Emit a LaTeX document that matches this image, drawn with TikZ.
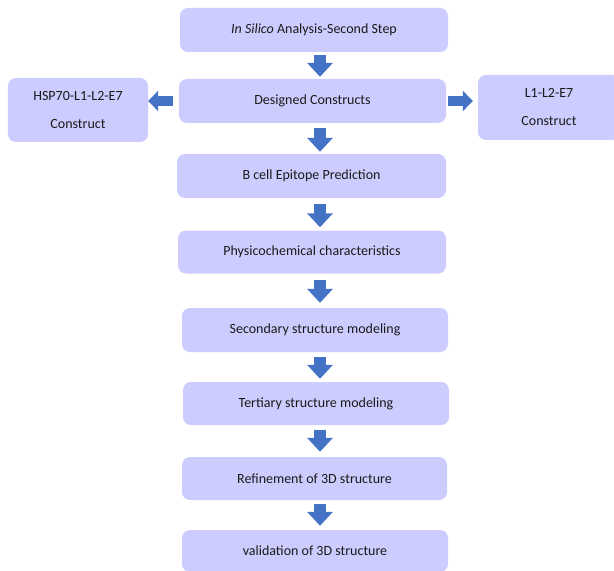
\documentclass[tikz,border=0pt]{standalone}
\usepackage{fontspec}
\setmainfont{Carlito}
\usetikzlibrary{arrows.meta,calc}
\definecolor{boxfill}{HTML}{CCCCFF}
\definecolor{arrowblue}{HTML}{4472C4}
\definecolor{txt}{HTML}{1A1A1A}
\begin{document}
\begin{tikzpicture}[x=1bp,y=-1bp,
 box/.style={rectangle, rounded corners=8bp, fill=boxfill, draw=none, text=txt,
   font=\fontsize{14bp}{28bp}\selectfont, inner sep=0pt, align=center},
 barrow/.style={draw=arrowblue, line width=12bp, -{Triangle[length=14bp,width=25bp]}},
 sarrow/.style={draw=arrowblue, line width=10bp, -{Triangle[length=10bp,width=20bp]}}]
\clip (0,0) rectangle (614,571);
\useasboundingbox (0,0) rectangle (614,571);
\fill[white] (0,0) rectangle (614,571);
\node[box, minimum width=268bp, minimum height=44bp] (s0) at (314,30) {\textit{In Silico} Analysis-Second Step};
\node[box, minimum width=267bp, minimum height=44bp] (s1) at (312.5,101) {Designed Constructs};
\node[box, minimum width=140bp, minimum height=64bp] (lb) at (78,110) {HSP70-L1-L2-E7\\Construct};
\node[box, minimum width=142bp, minimum height=65bp] (rb) at (549,107.5) {L1-L2-E7\\Construct};
\node[box, minimum width=269bp, minimum height=44bp] (s2) at (311.5,176) {B cell Epitope Prediction};
\node[box, minimum width=268bp, minimum height=43bp] (s3) at (312,252) {Physicochemical characteristics};
\node[box, minimum width=266bp, minimum height=44bp] (s4) at (315,330) {Secondary structure modeling};
\node[box, minimum width=266bp, minimum height=43bp] (s5) at (316,403.5) {Tertiary structure modeling};
\node[box, minimum width=265bp, minimum height=43bp] (s6) at (314.5,478.5) {Refinement of 3D structure};
\node[box, minimum width=266bp, minimum height=42bp] (s7) at (315,551) {validation of 3D structure};
\coordinate (ax) at (320,0);
\draw[barrow, shorten <=3bp, shorten >=2bp] (s0.south -| ax) -- (s1.north -| ax);
\draw[barrow, shorten <=5bp, shorten >=2bp] (s1.south -| ax) -- (s2.north -| ax);
\draw[barrow, shorten <=6bp, shorten >=3bp] (s2.south -| ax) -- (s3.north -| ax);
\draw[barrow, shorten <=6bp, shorten >=5bp] (s3.south -| ax) -- (s4.north -| ax);
\draw[barrow, shorten <=5bp, shorten >=3bp] (s4.south -| ax) -- (s5.north -| ax);
\draw[barrow, shorten <=5bp, shorten >=5bp] (s5.south -| ax) -- (s6.north -| ax);
\draw[barrow, shorten <=4bp, shorten >=4bp] (s6.south -| ax) -- (s7.north -| ax);
\draw[sarrow, shorten <=6bp] (s1.west) -- (lb.east |- s1.west);
\draw[sarrow, shorten <=2bp, shorten >=5bp] (s1.east) -- (rb.west |- s1.east);
\end{tikzpicture}
\end{document}
